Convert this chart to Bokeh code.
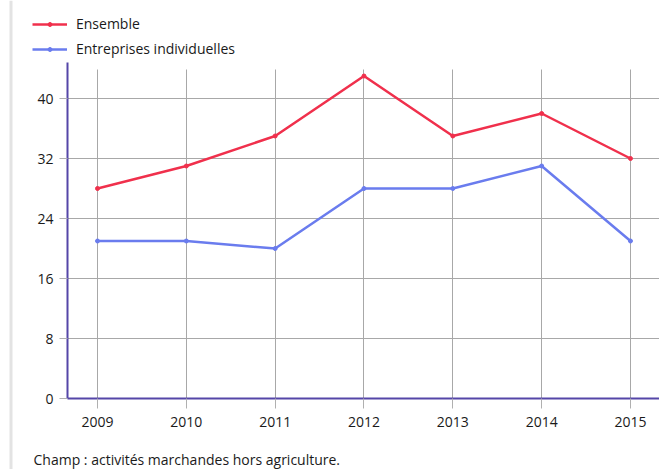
from bokeh.plotting import figure
from bokeh.models import (Range1d, FixedTicker, Legend, LegendItem, Label, Span)
from bokeh.embed import file_html
from bokeh.resources import INLINE

years = [2009, 2010, 2011, 2012, 2013, 2014, 2015]
ensemble = [28, 31, 35, 43, 35, 38, 32]
individuelles = [21, 21, 20, 28, 28, 31, 21]
y_ticks = [0, 8, 16, 24, 32, 40]
series_names = ["Ensemble", "Entreprises individuelles"]
caption = "Champ : activités marchandes hors agriculture."

RED = "#f0304c"
BLUE = "#6a7cee"
AXIS = "#5546a8"
GRID = "#a8a8a8"
TEXT = "#1a1a1a"
FONT = "Open Sans"

W, H = 659, 469
PX_X = 88.83          # pixels per year
PX_Y = 7.5            # pixels per unit
X0_PX, Y0_PX = 97, 398  # pixel position of (2009, 0)
AX_LEFT_PX = 67

x_start = years[0] - X0_PX / PX_X
x_end = years[0] + (W - X0_PX) / PX_X
y_start = -(H - Y0_PX) / PX_Y
y_end = Y0_PX / PX_Y
x_axis_start = years[0] - (X0_PX - AX_LEFT_PX) / PX_X
y_axis_top = (Y0_PX - 62) / PX_Y
grid_top = (Y0_PX - 69) / PX_Y

p = figure(width=W, height=H, output_backend="svg", toolbar_location=None,
           x_range=Range1d(x_start, x_end), y_range=Range1d(y_start, y_end),
           min_border=0, min_border_left=0, min_border_right=0,
           min_border_top=0, min_border_bottom=0)
p.outline_line_color = None
p.background_fill_color = "white"
p.border_fill_color = "white"

# grids
p.xgrid.ticker = FixedTicker(ticks=years)
p.ygrid.ticker = FixedTicker(ticks=y_ticks)
for g in (p.xgrid, p.ygrid):
    g.grid_line_color = GRID
    g.grid_line_width = 1
p.xgrid.cross_bounds = (0, grid_top)
p.ygrid.cross_bounds = (x_axis_start, x_end)

# axes
p.xaxis.ticker = FixedTicker(ticks=years)
p.yaxis.ticker = FixedTicker(ticks=y_ticks)
p.xaxis.fixed_location = 0
p.yaxis.fixed_location = x_axis_start
p.xaxis.bounds = (x_axis_start, x_end)
p.yaxis.bounds = (0, y_axis_top)
for ax in (p.xaxis, p.yaxis):
    ax.axis_line_color = AXIS
    ax.axis_line_width = 2
    ax.major_tick_line_color = "#b0b0b0"
    ax.major_tick_in = 0
    ax.minor_tick_line_color = None
    ax.major_label_text_font = FONT
    ax.major_label_text_font_size = "14px"
    ax.major_label_text_color = TEXT
p.xaxis.major_tick_out = 10
p.xaxis.major_label_standoff = 8
p.yaxis.major_tick_out = 8
p.yaxis.major_label_standoff = 6

# series
l1 = p.line(years, ensemble, line_color=RED, line_width=2.5)
s1 = p.scatter(years, ensemble, size=4, color=RED)
l2 = p.line(years, individuelles, line_color=BLUE, line_width=2.5)
s2 = p.scatter(years, individuelles, size=4, color=BLUE)

legend = Legend(items=[LegendItem(label=series_names[0], renderers=[l1, s1]),
                       LegendItem(label=series_names[1], renderers=[l2, s2])],
                location=(32, H - 58), orientation="vertical",
                padding=0, margin=0, spacing=6, glyph_width=35, glyph_height=10,
                label_height=19, label_standoff=9,
                label_text_font=FONT, label_text_font_size="14px", label_text_color=TEXT,
                border_line_color=None, background_fill_alpha=0)
p.add_layout(legend, "center")

# left container border
p.add_layout(Span(location=10.5, location_units="screen", dimension="height",
                  line_color="#e3e3e3", line_width=3))

p.add_layout(Label(x=33, y=H - 459, x_units="screen", y_units="screen", text=caption,
                   text_font=FONT, text_font_size="14px", text_color=TEXT,
                   text_baseline="middle"))

open("out.html", "w").write(file_html(p, INLINE))
